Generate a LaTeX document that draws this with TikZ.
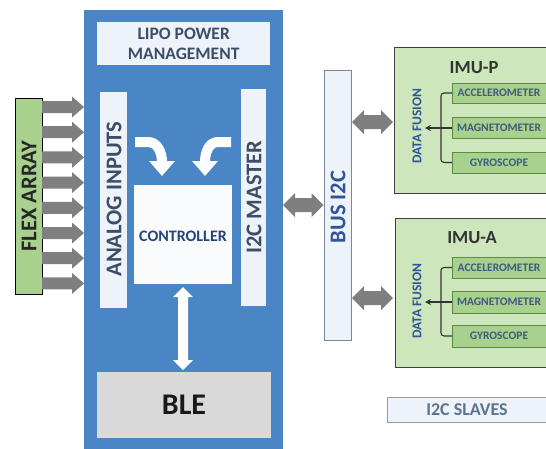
\documentclass[tikz,border=0pt]{standalone}
\usepackage{fontspec}
\setmainfont{Carlito}
\usetikzlibrary{arrows.meta}
\definecolor{mainblue}{HTML}{4A86C5}
\definecolor{lightbar}{HTML}{EEF3FA}
\definecolor{ctrlwhite}{HTML}{FAFBFD}
\definecolor{blegray}{HTML}{D9D9D9}
\definecolor{flexgreen}{HTML}{A9D18E}
\definecolor{arrgray}{HTML}{7F7F7F}
\definecolor{imufill}{HTML}{CDE6BC}
\definecolor{subfill}{HTML}{A9D18E}
\definecolor{subborder}{HTML}{5E8A46}
\definecolor{txtdark}{HTML}{3B4D68}
\definecolor{txtblue}{HTML}{2F5597}
\definecolor{txtsub}{HTML}{3D5A80}
\definecolor{busborder}{HTML}{7A8699}
\definecolor{slavetxt}{HTML}{5D7290}
\tikzset{
  barbox/.style={fill=lightbar, draw=none},
  subbox/.style={fill=subfill, draw=subborder, line width=0.8pt},
  subtxt/.style={font=\bfseries\fontsize{11.5}{12}\selectfont, text=txtsub},
  imubox/.style={fill=imufill, draw=black!75, line width=0.9pt},
  bracket/.style={draw=black!80, line width=1.1pt, rounded corners=3pt},
  curvearrow/.style={draw=white, line width=10pt, -{Triangle[width=25pt,length=15pt]}},
  sidetxt/.style={rotate=90, font=\bfseries\fontsize{22.5}{24}\selectfont},
}
% horizontal double block arrow: left tip x, right tip x, y, head length, head half, shaft half, colour
\newcommand{\hdarrow}[7]{%
  \fill[#7] (#1,#3) -- ({#1+#4},{#3-#5}) -- ({#1+#4},{#3-#6}) -- ({#2-#4},{#3-#6}) -- ({#2-#4},{#3-#5}) -- (#2,#3)
    -- ({#2-#4},{#3+#5}) -- ({#2-#4},{#3+#6}) -- ({#1+#4},{#3+#6}) -- ({#1+#4},{#3+#5}) -- cycle;}
\begin{document}
\begin{tikzpicture}[x=1pt,y=-1pt]
\clip (0,0) rectangle (546,448);
\useasboundingbox (0,0) rectangle (546,448);
\fill[white] (0,0) rectangle (546,448);
% main blue box
\node[fill=mainblue, draw=none, minimum width=199pt, minimum height=448pt, inner sep=0, anchor=north west] (main) at (84,10) {};
\node[fill=lightbar, minimum width=173pt, minimum height=43pt, inner sep=0, anchor=north west, align=center, text=txtdark, font=\bfseries\fontsize{17.5}{20}\selectfont] (lipo) at (97,22) {LIPO POWER\\MANAGEMENT};
\node[barbox, minimum width=27pt, minimum height=216pt, inner sep=0, anchor=north west] (analog) at (100,92) {};
\node[sidetxt, text=txtdark] at (114,199) {ANALOG INPUTS};
\node[barbox, minimum width=25pt, minimum height=217pt, inner sep=0, anchor=north west] (master) at (241,89) {};
\node[sidetxt, text=txtdark] at (254,197) {I2C MASTER};
\node[fill=ctrlwhite, minimum width=98pt, minimum height=99pt, inner sep=0, anchor=north west] (ctrl) at (134,185) {};
\node[text=txtblue!80!black, font=\bfseries\fontsize{16}{18}\selectfont] at (183,236) {CONTROLLER};
\node[fill=blegray, minimum width=174pt, minimum height=66pt, inner sep=0, anchor=north west] (ble) at (97,372) {};
\node[text=black!90, font=\bfseries\fontsize{30}{32}\selectfont] at (184,405) {BLE};
% curved arrows
\draw[curvearrow] (135,142) -- (148,142) to[out=0,in=90] (162,162) -- (162,176);
\draw[curvearrow] (231,142) -- (218,142) to[out=180,in=90] (205,162) -- (205,176);
% white vertical double arrow
\coordinate (bt) at (183,287);
\coordinate (bb) at (183,370);
\fill[white] (bt) -- ++(-10,10) -- ++(5,0) -- ([xshift=-5pt,yshift=10pt]bb) -- ++(-5,0) -- (bb) -- ++(10,-10) -- ++(-5,0) -- ([xshift=5pt,yshift=-10pt]bt) -- ++(5,0) -- cycle;
% flex array
\node[fill=flexgreen, draw=black, line width=0.9pt, minimum width=27pt, minimum height=196pt, inner sep=0, anchor=north west] (flex) at (15,98) {};
\node[sidetxt, text=black!85] at (29,196) {FLEX ARRAY};
\foreach \i in {0,...,7}{
  \pgfmathsetmacro{\yy}{107+25.2*\i}
  \fill[arrgray] (42,{\yy-6}) -- (72,{\yy-6}) -- (72,{\yy-10.5}) -- (84,\yy) -- (72,{\yy+10.5}) -- (72,{\yy+6}) -- (42,{\yy+6}) -- cycle;
}
% bus
\node[fill=lightbar, draw=busborder, line width=0.9pt, minimum width=27pt, minimum height=270pt, inner sep=0, anchor=north west] (bus) at (324,70) {};
\node[sidetxt, text=txtblue] at (338,207) {BUS I2C};
\hdarrow{283}{323.5}{205}{12}{12}{7}{arrgray}
\hdarrow{352}{393}{122}{12}{12}{7}{arrgray}
\hdarrow{352}{393}{298}{12}{12}{7}{arrgray}
% IMU-P
\node[imubox, minimum width=170pt, minimum height=146pt, inner sep=0, anchor=north west] (imup) at (394,47) {};
\node[font=\bfseries\fontsize{18.5}{20}\selectfont, text=black!80] at (474,68) {IMU-P};
\node[subbox, minimum width=98pt, minimum height=20pt, inner sep=0, anchor=west] (accp) at (452,93) {};
\node[subtxt] at (499,93) {ACCELEROMETER};
\node[subbox, minimum width=98pt, minimum height=21pt, inner sep=0, anchor=west] (magp) at (452,128) {};
\node[subtxt] at (499,128) {MAGNETOMETER};
\node[subbox, minimum width=98pt, minimum height=21pt, inner sep=0, anchor=west] (gyrp) at (452,162.5) {};
\node[subtxt] at (499,162.5) {GYROSCOPE};
\node[rotate=90, font=\bfseries\fontsize{13.5}{14}\selectfont, text=txtblue] (dfp) at (417,126) {DATA FUSION};
\draw[bracket] (accp.west) -| (441,128) |- (gyrp.west);
\draw[draw=black!80, line width=1.1pt] (magp.west) -- (441,128);
\draw[draw=black!80, line width=1.1pt, -{Stealth[length=6pt,width=6pt]}] (441,128) -- (425,128);
% IMU-A
\node[imubox, minimum width=170pt, minimum height=149pt, inner sep=0, anchor=north west] (imua) at (395,218) {};
\node[font=\bfseries\fontsize{18.5}{20}\selectfont, text=black!80] at (472,238) {IMU-A};
\node[subbox, minimum width=98pt, minimum height=21pt, inner sep=0, anchor=west] (acca) at (452,267.5) {};
\node[subtxt] at (499,267.5) {ACCELEROMETER};
\node[subbox, minimum width=98pt, minimum height=22pt, inner sep=0, anchor=west] (maga) at (452,302) {};
\node[subtxt] at (499,302) {MAGNETOMETER};
\node[subbox, minimum width=98pt, minimum height=22pt, inner sep=0, anchor=west] (gyra) at (452,336) {};
\node[subtxt] at (499,336) {GYROSCOPE};
\node[rotate=90, font=\bfseries\fontsize{13.5}{14}\selectfont, text=txtblue] (dfa) at (417,301) {DATA FUSION};
\draw[bracket] (acca.west) -| (441,302) |- (gyra.west);
\draw[draw=black!80, line width=1.1pt] (maga.west) -- (441,302);
\draw[draw=black!80, line width=1.1pt, -{Stealth[length=6pt,width=6pt]}] (441,302) -- (425,302);
% I2C slaves
\node[fill=lightbar, draw=busborder!80, line width=0.9pt, minimum width=170pt, minimum height=25pt, inner sep=0, anchor=north west] (slaves) at (387,397) {};
\node[font=\bfseries\fontsize{18}{20}\selectfont, text=slavetxt] at (467,410) {I2C SLAVES};
\end{tikzpicture}
\end{document}
